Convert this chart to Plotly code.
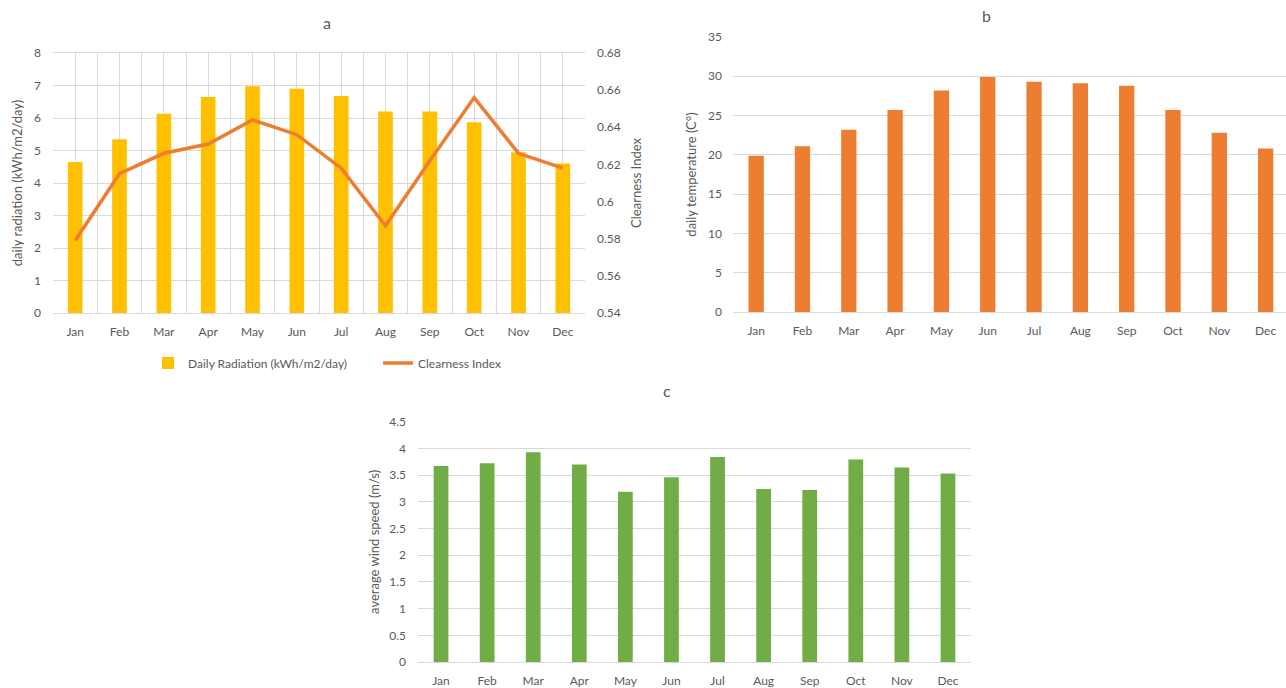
import plotly.graph_objects as go

months = ["Jan", "Feb", "Mar", "Apr", "May", "Jun", "Jul", "Aug", "Sep", "Oct", "Nov", "Dec"]
daily_radiation = [4.65, 5.35, 6.13, 6.65, 6.98, 6.90, 6.68, 6.20, 6.20, 5.87, 4.95, 4.60]
clearness_index = [0.579, 0.615, 0.626, 0.631, 0.644, 0.636, 0.618, 0.587, 0.622, 0.656, 0.626, 0.618]
daily_temperature = [19.9, 21.1, 23.2, 25.7, 28.2, 29.9, 29.3, 29.1, 28.8, 25.7, 22.8, 20.8]
wind_speed = [3.67, 3.72, 3.93, 3.70, 3.19, 3.46, 3.84, 3.24, 3.22, 3.79, 3.64, 3.53]

W, H = 1286, 688
FONT = "Lato"
TXT = "#595959"
GRID = "#D9D9D9"
GOLD = "#FFC000"
ORANGE = "#ED7D31"
GREEN = "#70AD47"

# panel a uses a numeric month index so gridlines can sit every half month
month_idx = list(range(len(months)))
half_ticks = [i / 2 - 0.5 for i in range(2 * len(months) + 1)]
half_text = [months[int(v)] if float(v).is_integer() else "" for v in half_ticks]


def fx(px):
    return min(px / W, 1.0)


def fy(py):
    return 1 - py / H


fig = go.Figure()

# Panel a
fig.add_trace(go.Bar(x=month_idx, y=daily_radiation, name="Daily Radiation (kWh/m2/day)",
                     marker_color=GOLD, width=0.33, xaxis="x", yaxis="y", legend="legend"))
fig.add_trace(go.Scatter(x=month_idx, y=clearness_index, name="Clearness Index", mode="lines",
                         line=dict(color=ORANGE, width=3.5), xaxis="x", yaxis="y2",
                         legend="legend2"))
# Panel b
fig.add_trace(go.Bar(x=months, y=daily_temperature, name="daily temperature", showlegend=False,
                     marker_color=ORANGE, width=0.33, xaxis="x3", yaxis="y3"))
# Panel c
fig.add_trace(go.Bar(x=months, y=wind_speed, name="average wind speed", showlegend=False,
                     marker_color=GREEN, width=0.32, xaxis="x4", yaxis="y4"))

tickfont = dict(family=FONT, size=12, color=TXT)
titlefont = dict(family=FONT, size=13, color=TXT)
legfont = dict(family=FONT, size=12, color=TXT)

fig.update_layout(
    template="none",
    width=W, height=H,
    margin=dict(l=0, r=0, t=0, b=0, autoexpand=False),
    paper_bgcolor="white", plot_bgcolor="white",
    font=dict(family=FONT, color=TXT),
    xaxis=dict(domain=[fx(53), fx(585)], anchor="y", range=[-0.5, 11.5],
               tickmode="array", tickvals=half_ticks, ticktext=half_text,
               showgrid=True, gridcolor=GRID, gridwidth=1, ticks="", tickfont=tickfont,
               showline=True, linecolor=GRID, mirror=True, zeroline=False,
               ticklabelstandoff=8, automargin=False),
    yaxis=dict(domain=[fy(313), fy(53)], anchor="x", range=[0, 8], dtick=1,
               showgrid=True, gridcolor=GRID, zeroline=False, ticks="", tickfont=tickfont,
               title=dict(text="daily radiation (kWh/m2/day)", font=titlefont, standoff=8),
               ticklabelstandoff=11, automargin=False),
    yaxis2=dict(overlaying="y", side="right", anchor="x", range=[0.54, 0.68], dtick=0.02,
                showgrid=False, zeroline=False, ticks="", tickfont=tickfont,
                title=dict(text="Clearness Index", font=titlefont, standoff=12),
                ticklabelstandoff=11, automargin=False),
    xaxis3=dict(domain=[fx(733), fx(1286)], anchor="y3", type="category", showgrid=False,
                range=[-0.5, 11.44],
                ticks="", tickfont=tickfont, showline=True, linecolor=GRID,
                ticklabelstandoff=8, automargin=False),
    yaxis3=dict(domain=[fy(312), fy(37)], anchor="x3", range=[0, 35], dtick=5,
                showgrid=True, gridcolor=GRID, zeroline=False, ticks="", tickfont=tickfont,
                title=dict(text="daily temperature (C°)", font=titlefont, standoff=8),
                ticklabelstandoff=10, automargin=False),
    xaxis4=dict(domain=[fx(418), fx(971)], anchor="y4", type="category", showgrid=False,
                ticks="", tickfont=tickfont, showline=True, linecolor=GRID,
                ticklabelstandoff=8, automargin=False),
    yaxis4=dict(domain=[fy(662), fy(421.7)], anchor="x4", range=[0, 4.5], dtick=0.5,
                showgrid=True, gridcolor=GRID, zeroline=False, ticks="", tickfont=tickfont,
                title=dict(text="average wind speed (m/s)", font=titlefont, standoff=6),
                ticklabelstandoff=11, automargin=False),
    legend=dict(orientation="h", x=fx(148), y=fy(363), xanchor="left", yanchor="middle",
                font=legfont, bgcolor="rgba(0,0,0,0)", itemwidth=30),
    legend2=dict(orientation="h", x=fx(378), y=fy(363), xanchor="left", yanchor="middle",
                 font=legfont, bgcolor="rgba(0,0,0,0)", itemwidth=30),
    annotations=[
        dict(text="a", x=fx(327), y=fy(22), xref="paper", yref="paper", showarrow=False,
             xanchor="center", yanchor="middle", font=dict(family=FONT, size=16, color=TXT)),
        dict(text="b", x=fx(986), y=fy(15), xref="paper", yref="paper", showarrow=False,
             xanchor="center", yanchor="middle", font=dict(family=FONT, size=16, color=TXT)),
        dict(text="c", x=fx(667), y=fy(390), xref="paper", yref="paper", showarrow=False,
             xanchor="center", yanchor="middle", font=dict(family=FONT, size=16, color=TXT)),
    ],
)

fig.write_html("out.html", config={"displayModeBar": False},
               post_script="document.body.style.margin='0';document.body.style.overflow='hidden';")
